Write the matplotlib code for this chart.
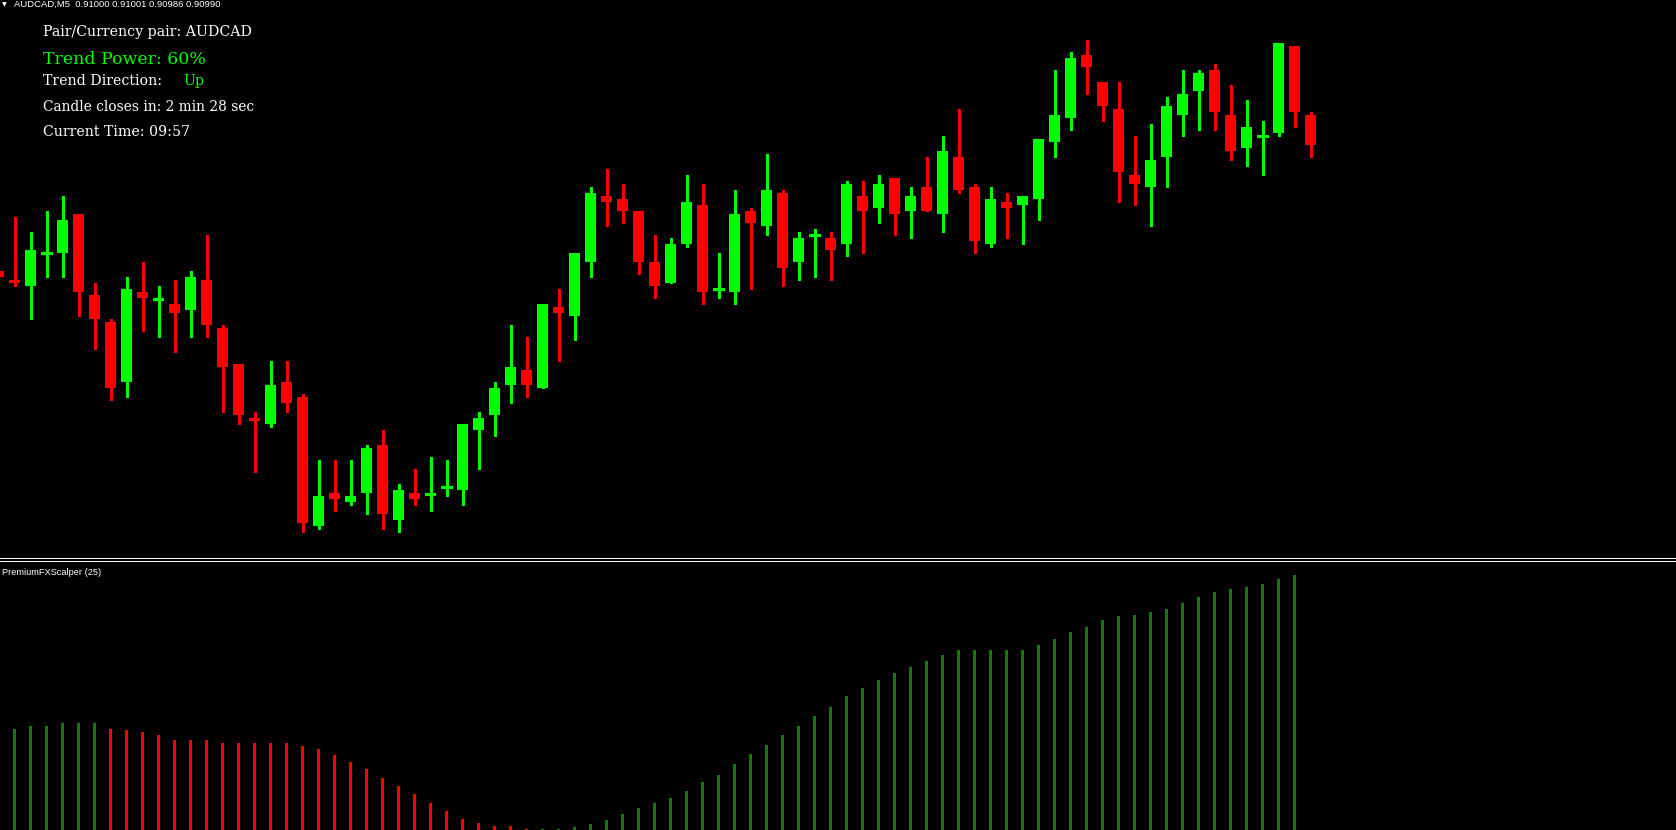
import numpy as np
import matplotlib
matplotlib.use("Agg")
import matplotlib.pyplot as plt
from matplotlib.patches import Rectangle

# ---------------- data ----------------
symbol = "AUDCAD,M5"
header_ohlc = ["0.91000", "0.91001", "0.90986", "0.90990"]

# candles, index -1 (partial, left edge) .. 81
opens = [0.90948,
    0.90945, 0.90943, 0.90954, 0.90954, 0.90967, 0.90940, 0.90931, 0.90911, 0.90941, 0.90938,
    0.90937, 0.90935, 0.90945, 0.90929, 0.90917, 0.90899, 0.90897, 0.90911, 0.90906, 0.90863,
    0.90874, 0.90871, 0.90874, 0.90890, 0.90865, 0.90874, 0.90873, 0.90876, 0.90875, 0.90895,
    0.90900, 0.90910, 0.90915, 0.90909, 0.90936, 0.90933, 0.90951, 0.90973, 0.90972, 0.90968,
    0.90951, 0.90944, 0.90957, 0.90970, 0.90942, 0.90941, 0.90968, 0.90963, 0.90974, 0.90951,
    0.90960, 0.90959, 0.90957, 0.90973, 0.90969, 0.90979, 0.90968, 0.90976, 0.90967, 0.90986,
    0.90976, 0.90957, 0.90971, 0.90970, 0.90972, 0.90991, 0.90999, 0.91020, 0.91011, 0.91002,
    0.90980, 0.90976, 0.90986, 0.91000, 0.91008, 0.91015, 0.91000, 0.90989, 0.90993, 0.90994,
    0.91023, 0.91000]
highs = [0.90948,
    0.90966, 0.90961, 0.90968, 0.90973, 0.90967, 0.90944, 0.90932, 0.90946, 0.90951, 0.90943,
    0.90945, 0.90948, 0.90960, 0.90930, 0.90917, 0.90901, 0.90918, 0.90918, 0.90907, 0.90885,
    0.90885, 0.90885, 0.90890, 0.90895, 0.90877, 0.90882, 0.90886, 0.90885, 0.90897, 0.90901,
    0.90911, 0.90930, 0.90926, 0.90937, 0.90942, 0.90954, 0.90976, 0.90982, 0.90977, 0.90968,
    0.90960, 0.90959, 0.90980, 0.90977, 0.90954, 0.90975, 0.90969, 0.90987, 0.90975, 0.90961,
    0.90962, 0.90961, 0.90978, 0.90978, 0.90980, 0.90979, 0.90976, 0.90986, 0.90993, 0.91002,
    0.90977, 0.90976, 0.90974, 0.90973, 0.90992, 0.91015, 0.91021, 0.91025, 0.91011, 0.91011,
    0.90993, 0.90997, 0.91006, 0.91015, 0.91015, 0.91017, 0.91010, 0.91005, 0.90998, 0.91024,
    0.91023, 0.91001]
lows = [0.90946,
    0.90943, 0.90932, 0.90946, 0.90946, 0.90933, 0.90922, 0.90905, 0.90906, 0.90928, 0.90926,
    0.90921, 0.90926, 0.90926, 0.90901, 0.90897, 0.90881, 0.90896, 0.90901, 0.90861, 0.90862,
    0.90868, 0.90870, 0.90867, 0.90862, 0.90861, 0.90870, 0.90868, 0.90873, 0.90870, 0.90882,
    0.90893, 0.90904, 0.90906, 0.90909, 0.90918, 0.90925, 0.90946, 0.90963, 0.90964, 0.90947,
    0.90939, 0.90944, 0.90956, 0.90937, 0.90939, 0.90937, 0.90942, 0.90960, 0.90943, 0.90945,
    0.90946, 0.90945, 0.90953, 0.90954, 0.90964, 0.90960, 0.90959, 0.90968, 0.90961, 0.90974,
    0.90954, 0.90956, 0.90959, 0.90957, 0.90965, 0.90986, 0.90995, 0.91007, 0.90998, 0.90971,
    0.90970, 0.90963, 0.90976, 0.90993, 0.90995, 0.90995, 0.90985, 0.90983, 0.90980, 0.90993,
    0.90996, 0.90986]
closes = [0.90946,
    0.90944, 0.90955, 0.90954, 0.90965, 0.90941, 0.90932, 0.90909, 0.90942, 0.90939, 0.90939,
    0.90934, 0.90946, 0.90930, 0.90916, 0.90900, 0.90898, 0.90910, 0.90904, 0.90864, 0.90873,
    0.90872, 0.90873, 0.90889, 0.90867, 0.90875, 0.90872, 0.90874, 0.90876, 0.90897, 0.90899,
    0.90909, 0.90916, 0.90910, 0.90937, 0.90934, 0.90954, 0.90974, 0.90971, 0.90968, 0.90951,
    0.90943, 0.90957, 0.90971, 0.90941, 0.90942, 0.90967, 0.90964, 0.90975, 0.90949, 0.90959,
    0.90960, 0.90955, 0.90977, 0.90968, 0.90977, 0.90967, 0.90973, 0.90968, 0.90988, 0.90975,
    0.90958, 0.90972, 0.90969, 0.90973, 0.90992, 0.91000, 0.91019, 0.91016, 0.91003, 0.90981,
    0.90977, 0.90985, 0.91003, 0.91007, 0.91014, 0.91001, 0.90988, 0.90996, 0.90993, 0.91024,
    0.91001, 0.90990]
first_index = -1

# PremiumFXScalper (25) histogram, bars 0..80
scalper_values = [
    101, 104, 104, 107, 107, 107, 101, 100, 98, 95,
    90, 90, 90, 87, 87, 87, 87, 87, 84, 81,
    75, 68, 61, 52, 44, 36, 27, 19, 11, 7,
    4, 4, 1, 1, 1, 3, 6, 10, 16, 22,
    27, 32, 39, 48, 55, 66, 76, 85, 95, 104,
    114, 123, 134, 142, 150, 157, 163, 169, 175, 180,
    180, 180, 180, 180, 185, 191, 198, 203, 210, 214,
    215, 218, 221, 227, 233, 238, 241, 243, 246, 251,
    255]
scalper_trend = "UUUUUU" + "D" * 27 + "U" * 48

info_lines = [
    ("Pair/Currency pair: AUDCAD", "white"),
    ("Trend Power: 60%", "lime"),
    ("Trend Direction:", "white"),
    ("Candle closes in: 2 min 28 sec", "white"),
    ("Current Time: 09:57", "white"),
]
trend_direction = "Up"
indicator_name = "PremiumFXScalper (25)"

# ---------------- figure ----------------
W, H = 1676, 830
fig = plt.figure(figsize=(W / 100, H / 100), dpi=100, facecolor="black")

def fx(px):
    return px / W

def fy(py):
    return 1 - py / H

BULL = "#00FF00"
BEAR = "#FF0000"
IND_UP = "#008000"
IND_DN = "#FF0000"

# pixel geometry: 16 px per bar, first full bar centred at 14.5 px
x0 = -14.5 / 16
x1 = x0 + W / 16

main_bottom_px = 557
ax = fig.add_axes([0, fy(main_bottom_px), 1, main_bottom_px / H])
ax.set_facecolor("black")
ax.set_axis_off()
ax.set_xlim(x0, x1)
# price scale: 3 px per point, last close at y=145 px
pt = 0.00001
last_close_px = 145
ax.set_ylim(0.90990 - (main_bottom_px - last_close_px) / 3 * pt,
            0.90990 + last_close_px / 3 * pt)

o = np.array(opens); h = np.array(highs); l = np.array(lows); c = np.array(closes)
xs = np.arange(first_index, first_index + len(o))
up = c >= o
cols = np.where(up, BULL, BEAR)
body_w = 11 / 16

ax.vlines(xs, l, h, colors=cols, linewidth=0.75, antialiased=False)
doji = np.isclose(o, c)
nb = ~doji
ax.bar(xs[nb], np.abs(c - o)[nb], bottom=np.minimum(o, c)[nb], width=body_w,
       color=cols[nb], edgecolor="none", antialiased=False)
ax.hlines(o[doji], xs[doji] - body_w / 2, xs[doji] + body_w / 2,
          colors=cols[doji], linewidth=0.75, antialiased=False)

# indicator panel
ind_top_px = 563
ax2 = fig.add_axes([0, 0, 1, (H - ind_top_px) / H])
ax2.set_facecolor("black")
ax2.set_axis_off()
ax2.set_xlim(x0, x1)
ax2.set_ylim(0, H - ind_top_px)
ix = np.arange(len(scalper_values))
icol = [IND_UP if t == "U" else IND_DN for t in scalper_trend]
ax2.bar(ix, scalper_values, width=3.4 / 16, color=icol, edgecolor="none",
        antialiased=False)

# separator double line (1 px each)
for yy in (558, 561):
    fig.add_artist(Rectangle((0, fy(yy + 1)), 1, 1 / H, transform=fig.transFigure,
                             facecolor="white", edgecolor="none", antialiased=False))

# header
fig.text(fx(2), fy(6.5), "\u25BC", color="white", fontsize=4.5,
         family="DejaVu Sans", va="baseline", ha="left")
fig.text(fx(14), fy(6.7), symbol + "  " + " ".join(header_ohlc), color="white",
         fontsize=6.8, family="Liberation Sans", va="baseline", ha="left")

# info block
baselines = [36, 64, 85, 110.5, 136]
sizes = [10.2, 12.5, 10.2, 9.9, 10.2]
for (txt, colr), yb, fs in zip(info_lines, baselines, sizes):
    fig.text(fx(43), fy(yb), txt, color=colr, fontsize=fs,
             family="DejaVu Serif", va="baseline", ha="left")
fig.text(fx(183), fy(85), trend_direction, color="lime", fontsize=10.2,
         family="DejaVu Serif", va="baseline", ha="left")

fig.text(fx(2), fy(575), indicator_name, color="white", fontsize=6.7,
         family="Liberation Sans", va="baseline", ha="left")

fig.savefig("out.png", dpi=100, facecolor="black")
